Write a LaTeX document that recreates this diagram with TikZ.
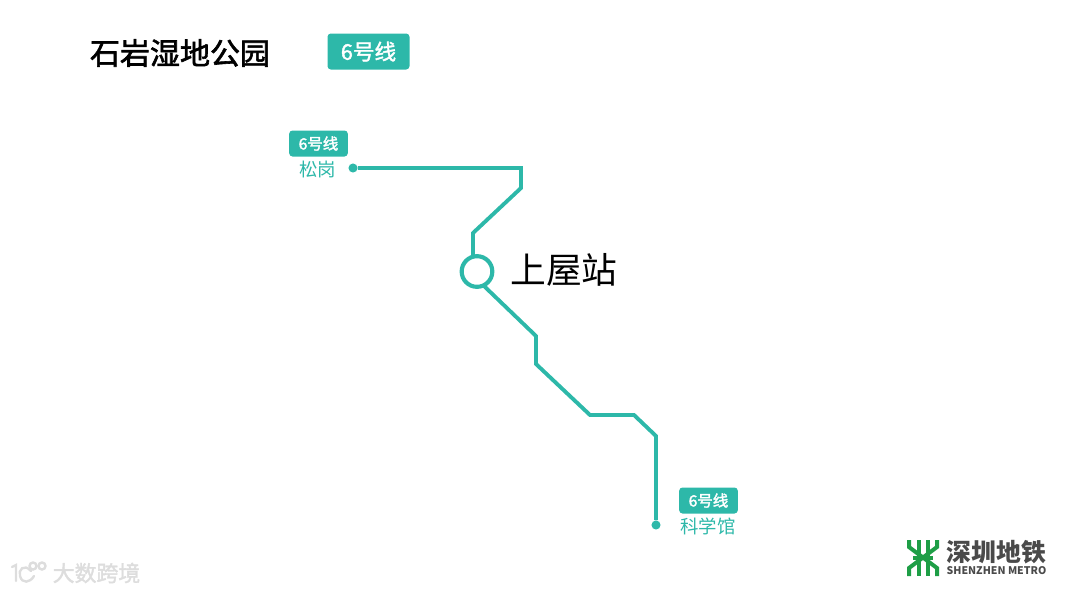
\documentclass[tikz,border=0pt]{standalone}
\usepackage{fontspec}
\usepackage{tikz}
\usetikzlibrary{positioning}
\setmainfont{Noto Sans CJK SC}
\newcommand{\heavy}[2][0.3]{\special{pdf:code 2 Tr #1 w}#2\special{pdf:code 0 Tr 1 w}}
\definecolor{lineteal}{HTML}{2DB8A9}
\definecolor{metrogreen}{HTML}{1E9E46}
\definecolor{metrogray}{HTML}{4A4A4A}
\definecolor{markgray}{HTML}{DDDDDD}
\tikzset{
  linepath/.style={draw=lineteal, line width=2.9pt, line join=miter},
  badge/.style={fill=lineteal, rounded corners=2.5pt, text=white, align=center, inner sep=0pt},
  endstop/.style={circle, fill=lineteal, minimum size=6.8pt, inner sep=0pt},
  stopname/.style={text=lineteal, inner sep=0pt, font=\fontsize{13.8pt}{15pt}\selectfont},
  interchange/.style={circle, draw=lineteal, line width=3.1pt, fill=white, minimum size=23pt, inner sep=0pt},
  logobar/.style={draw=metrogreen, line width=3pt},
  markstroke/.style={draw=markgray, line width=1.8pt, line cap=round}
}
\begin{document}
\begin{tikzpicture}[x=0.75pt,y=-0.75pt]
\useasboundingbox (0,0) rectangle (1080,593);
% header
\node[inner sep=0pt, font=\fontsize{22.5pt}{24pt}\selectfont] (title) at (180,53) {\heavy[0.45]{石岩湿地公园}};
\node[badge, minimum width=61.5pt, minimum height=27pt, font=\fontsize{16.2pt}{18pt}\selectfont] (headbadge) at (368.5,51.5) {\heavy{6号线}};
% stops
\node[endstop] (songgang) at (353,168) {};
\node[endstop] (kexueguan) at (656,525) {};
\node[interchange] (shangwu) at (477,271.5) {};
\node[inner sep=0pt, font=\fontsize{26.8pt}{28pt}\selectfont] (shangwuname) at (564,270) {上屋站};
\node[stopname] (songgangname) at (317.5,169) {松岗};
\node[stopname] (kexueguanname) at (708,526) {科学馆};
\node[badge, minimum width=44pt, minimum height=19.5pt, font=\fontsize{11.6pt}{13pt}\selectfont] (topbadge) at (318.5,143.5) {\heavy[0.25]{6号线}};
\node[badge, minimum width=44pt, minimum height=19.5pt, font=\fontsize{11.6pt}{13pt}\selectfont] (bottombadge) at (708.5,500.5) {\heavy[0.25]{6号线}};
% bends
\coordinate (a1) at (521,168);
\coordinate (a2) at (521,188);
\coordinate (a3) at (473,233);
\coordinate (a4) at (473,258);
\coordinate (b1) at (484,286);
\coordinate (b2) at (536,336);
\coordinate (b3) at (536,364);
\coordinate (b4) at (590,415);
\coordinate (b5) at (634,415);
\coordinate (b6) at (656,436);
\draw[linepath] (songgang) -- (a1) -- (a2) -- (a3) -- (a4);
\draw[linepath] (b1) -- (b2) -- (b3) -- (b4) -- (b5) -- (b6) -- (kexueguan);
% metro logo
\draw[logobar] (918.5,540) -- (918.5,576);
\draw[logobar] (927.5,540) -- (927.5,576);
\draw[logobar] (913,557.5) -- (933,557.5);
\draw[logobar] (909,540) -- (909,547) -- (923,557.5) -- (937,547) -- (937,540);
\draw[logobar] (909,576) -- (909,568) -- (923,557.5) -- (937,568) -- (937,576);
\node[inner sep=0pt, text=metrogray, font=\bfseries\fontsize{18.6pt}{20pt}\selectfont] (logocn) at (996.5,552) {深圳地铁};
\node[inner sep=0pt, text=metrogray, font=\bfseries\fontsize{7.9pt}{9pt}\selectfont] (logoen) at (996.5,570.5) {SHENZHEN METRO};
% watermark
\node[inner sep=0pt, text=markgray, font=\fontsize{16.4pt}{18pt}\selectfont] (markname) at (96.5,573) {\heavy{大数跨境}};
\draw[markstroke] (12,567) -- (16,565) -- (16,581);
\draw[markstroke] (31,571) .. controls (24,563) and (18,570) .. (20,576) .. controls (22,584) and (30,583) .. (34,576);
\draw[markstroke] (33,566) circle (3.5);
\draw[markstroke] (42,566) circle (3.5);
\end{tikzpicture}
\end{document}
